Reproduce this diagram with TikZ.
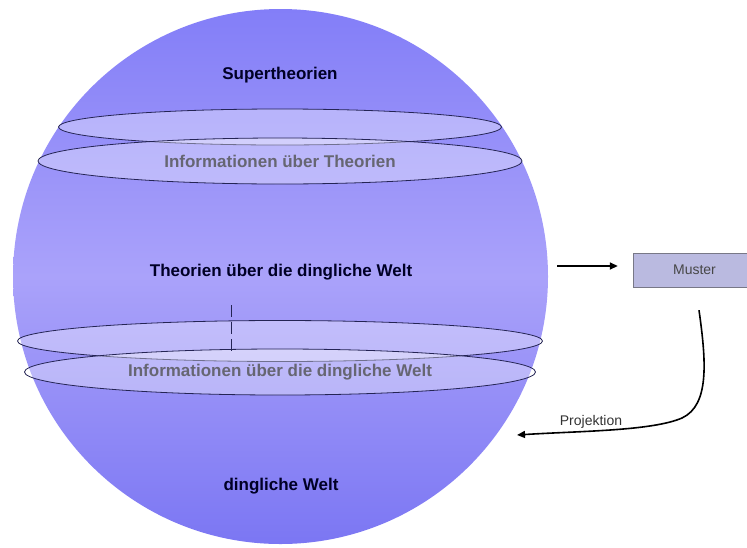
\documentclass[tikz,border=0pt]{standalone}
\usepackage{fontspec}
\setmainfont{Liberation Sans}
\usetikzlibrary{arrows.meta,positioning,calc,shapes.geometric}
\definecolor{balltop}{RGB}{120,116,247}
\definecolor{ballmid}{RGB}{170,162,250}
\definecolor{ballbot}{RGB}{110,106,241}
\definecolor{ringline}{RGB}{36,36,84}
\definecolor{ringtext}{RGB}{102,102,114}
\definecolor{boxfill}{RGB}{186,186,224}
\definecolor{boxline}{RGB}{120,120,135}
\pgfdeclareverticalshading{ballshade}{100bp}{color(0bp)=(ballbot); color(18bp)=(ballbot);
  color(50bp)=(ballmid); color(82bp)=(balltop); color(100bp)=(balltop)}
\tikzset{
  ring/.style={ellipse, draw=ringline, line width=0.8pt, fill=white,
               fill opacity=0.35, text opacity=1, inner sep=0pt},
  lvl/.style={font=\bfseries\fontsize{17}{19}\selectfont, text=black!85!blue},
  info/.style={font=\bfseries\fontsize{17}{19}\selectfont, text=ringtext},
  pfeil/.style={-{Triangle[length=8pt,width=7pt]}, line width=1.6pt},
}

\begin{document}
\begin{tikzpicture}[x=1pt,y=-1pt]
  \useasboundingbox (0,0) rectangle (747,547);
  \node[circle, minimum size=535pt, inner sep=0pt, shading=ballshade] (ball) at (280.5,276.5) {};
  % upper rings
  \node[ring, minimum width=443pt, minimum height=36pt] (r1) at (280,127) {};
  \node[ring, info, minimum width=484pt, minimum height=46pt] (r2) at (280,161)
       {\raisebox{-5pt}{Informationen über Theorien}};
  % lower rings
  \node[ring, minimum width=525pt, minimum height=41pt] (r3) at (280,341) {};
  \node[ring, info, minimum width=511pt, minimum height=46pt] (r4) at (280,372)
       {\raisebox{-8pt}{Informationen über die dingliche Welt}};
  \draw[ringline, line width=1pt, dash pattern=on 12pt off 5pt] (231,305) -- (231,352);
  \node[lvl] (sup) at (280,75) {Supertheorien};
  \node[lvl] (theo) at (281,272) {Theorien über die dingliche Welt};
  \node[lvl] (welt) at (281,486) {dingliche Welt};
  % right side
  \node[draw=boxline, fill=boxfill, minimum width=123pt, minimum height=34pt,
        font=\fontsize{14}{16}\selectfont, text=black!72] (muster) at (694.5,270) {Muster};
  \coordinate (a0) at (557,266);
  \draw[pfeil] (a0) -- ([xshift=-15pt]muster.west |- a0);
  \coordinate (p1) at (517,435);
  \draw[pfeil] ([xshift=4.5pt,yshift=-23pt]muster.south)
       .. controls (706,360) and (710,405) .. (682,418)
       .. controls (652,431) and (580,431) .. (p1);
  \node[font=\fontsize{14}{16}\selectfont, text=black!80] (proj) at (591,422) {Projektion};
\end{tikzpicture}
\end{document}
